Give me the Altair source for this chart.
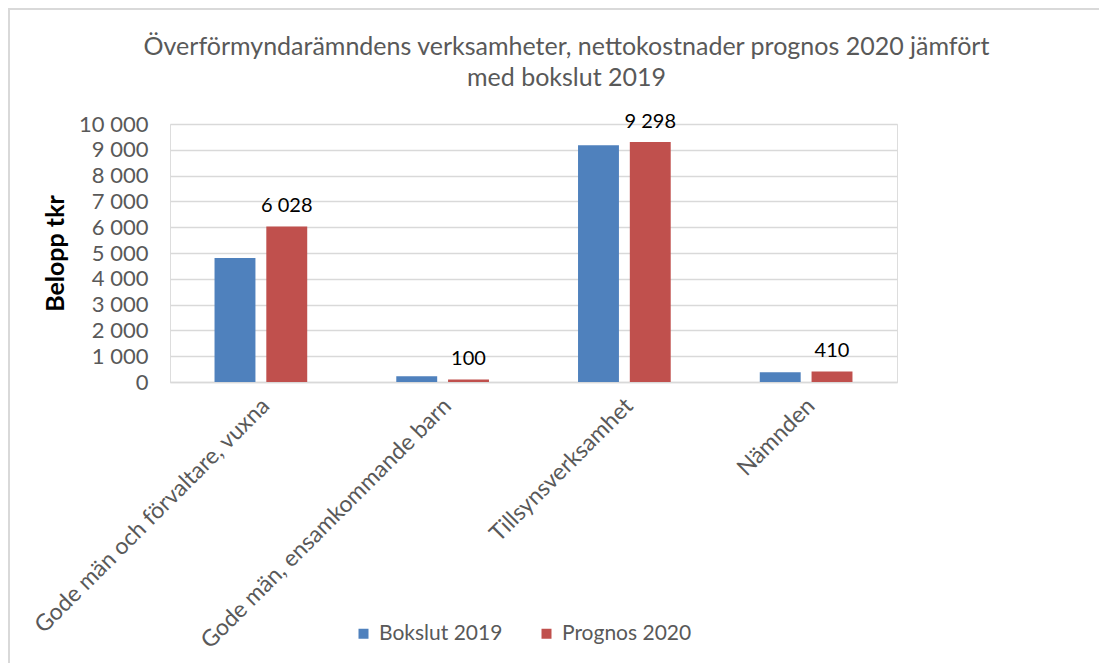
import altair as alt
import pandas as pd

categories = [
    "Gode män och förvaltare, vuxna",
    "Gode män, ensamkommande barn",
    "Tillsynsverksamhet",
    "Nämnden",
]
series_names = ["Bokslut 2019", "Prognos 2020"]
bokslut_2019 = [4810, 220, 9180, 380]
prognos_2020 = [6028, 100, 9298, 410]
y_ticks = [0, 1000, 2000, 3000, 4000, 5000, 6000, 7000, 8000, 9000, 10000]
colors = ["#4F81BD", "#C0504D"]

rows = []
for c, b, p in zip(categories, bokslut_2019, prognos_2020):
    rows.append({"kategori": c, "serie": series_names[0], "varde": b})
    rows.append({"kategori": c, "serie": series_names[1], "varde": p})
df = pd.DataFrame(rows)

FONT = "Lato"
W, H = 727, 258
PAD_L, PAD_T = 162, 116
TOTAL_W, TOTAL_H = 1091, 655

x_enc = alt.X(
    "kategori:N",
    sort=categories,
    scale=alt.Scale(paddingInner=0.49, paddingOuter=0.245),
    axis=alt.Axis(
        title=None,
        labelAngle=-45,
        labelAlign="right",
        labelBaseline="middle",
        labelFontSize=23,
        labelColor="#595959",
        labelFont=FONT,
        labelPadding=20,
        labelOffset=5,
        ticks=False,
        domainColor="#D9D9D9",
        domainWidth=1.3,
        labelLimit=600,
    ),
)
xoff_enc = alt.XOffset("serie:N", sort=series_names,
                       scale=alt.Scale(paddingInner=0.21, paddingOuter=0))
y_scale = alt.Scale(domain=[0, 10000], nice=False)

bars = alt.Chart(df).mark_bar().encode(
    x=x_enc,
    xOffset=xoff_enc,
    y=alt.Y(
        "varde:Q",
        scale=y_scale,
        axis=alt.Axis(
            title="Belopp tkr",
            titleFont=FONT,
            titleFontSize=25,
            titleFontWeight="bold",
            titleColor="#000000",
            titlePadding=10,
            values=y_ticks,
            labelExpr="replace(format(datum.value, ','), ',', ' ')",
            labelOverlap=False,
            labelFont=FONT,
            labelFontSize=22,
            labelColor="#595959",
            labelPadding=22,
            ticks=False,
            domain=False,
            gridColor="#D9D9D9",
            gridWidth=1.3,
        ),
    ),
    color=alt.Color(
        "serie:N",
        sort=series_names,
        scale=alt.Scale(domain=series_names, range=colors),
        legend=alt.Legend(
            title=None,
            orient="none",
            direction="horizontal",
            legendX=183,
            legendY=499,
            symbolType="square",
            symbolSize=100,
            symbolStrokeWidth=0,
            labelFont=FONT,
            labelFontSize=21,
            labelColor="#595959",
            columnPadding=33,
            labelOffset=5,
        ),
    ),
)

labels = alt.Chart(df).transform_filter(
    alt.datum.serie == series_names[1]
).transform_calculate(
    lbl="replace(format(datum.varde, ','), ',', ' ')"
).mark_text(
    baseline="bottom", dy=-10, fontSize=20, font=FONT, color="#000000"
).encode(
    x=alt.X("kategori:N", sort=categories, axis=None),
    xOffset=xoff_enc,
    y=alt.Y("varde:Q", scale=y_scale, axis=None),
    text="lbl:N",
)

frame = alt.Chart(df).mark_rect(
    fill=None, stroke="#D9D9D9", strokeWidth=2
).encode(
    x=alt.value(-PAD_L + 1),
    y=alt.value(-PAD_T + 1),
    x2=alt.value(TOTAL_W - PAD_L + 20),
    y2=alt.value(TOTAL_H - PAD_T + 20),
)

chart = alt.layer(frame, bars, labels).resolve_axis(
    x="independent", y="independent"
).properties(
    width=W,
    height=H,
    title=alt.Title(
        text=["Överförmyndarämndens verksamheter, nettokostnader prognos 2020 jämfört",
              "med bokslut 2019"],
        font=FONT,
        fontSize=25,
        fontWeight="normal",
        color="#595959",
        lineHeight=31,
        anchor="middle",
        frame="group",
        dx=33,
        dy=83,
        offset=0,
    ),
    autosize=alt.AutoSizeParams(type="none"),
    padding={"left": PAD_L, "top": PAD_T,
             "right": TOTAL_W - PAD_L - W, "bottom": TOTAL_H - PAD_T - H},
).configure_view(stroke=None).configure(background="white")

chart.save("out.html", embed_options={"renderer": "svg", "actions": False})
